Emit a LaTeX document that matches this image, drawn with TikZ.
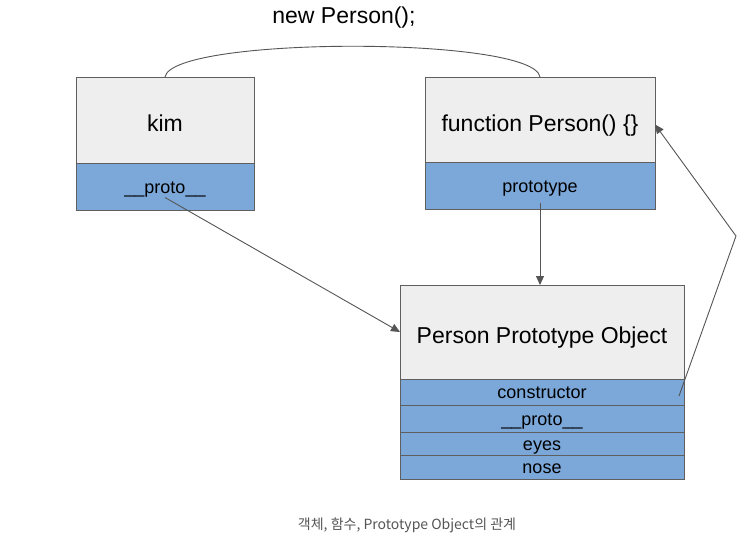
\documentclass[tikz,border=0pt]{standalone}
\usepackage{fontspec}
\setmainfont{Liberation Sans}
\newfontfamily\krfont{Noto Sans CJK KR}
\usetikzlibrary{arrows.meta,calc}
\definecolor{boxgray}{HTML}{EEEEEE}
\definecolor{boxblue}{HTML}{7BA7D9}
\definecolor{edgegray}{HTML}{5F5F5F}
\definecolor{linegray}{HTML}{555555}
\tikzset{
  titlebox/.style={draw=edgegray, fill=boxgray, line width=1pt, inner sep=0pt, outer sep=0pt, anchor=north west, text height=23pt, text depth=0pt, font=\fontsize{23}{26}\selectfont},
  fieldbox/.style={draw=edgegray, fill=boxblue, line width=1pt, inner sep=0pt, outer sep=0pt, anchor=north west, text height=13pt, text depth=0pt, font=\fontsize{18}{20}\selectfont},
  link/.style={draw=linegray, line width=0.9pt, -{Triangle[length=9pt,width=8pt]}},
  curveline/.style={draw=linegray, line width=0.9pt}
}
\begin{document}
\begin{tikzpicture}[x=1pt,y=-1pt]
\useasboundingbox[fill=white] (0,0) rectangle (750,557);
% kim
\node[titlebox, minimum width=178pt, minimum height=86pt] (kimtitle) at (76,77) {kim};
\node[fieldbox, minimum width=178pt, minimum height=47pt] (kimproto) at (76,163) {\_\_proto\_\_};
% function Person
\node[titlebox, minimum width=230pt, minimum height=85pt] (ftitle) at (425,77) {function Person() \{\}};
\node[fieldbox, minimum width=230pt, minimum height=47pt] (fproto) at (425,162) {prototype};
% Person Prototype Object
\node[titlebox, minimum width=284pt, minimum height=94pt] (ptitle) at (400,285) {Person Prototype Object};
\node[fieldbox, minimum width=284pt, minimum height=26pt] (pctor) at (400,379) {constructor};
\node[fieldbox, minimum width=284pt, minimum height=27pt] (pproto) at (400,405) {\_\_proto\_\_};
\node[fieldbox, minimum width=284pt, minimum height=23pt] (peyes) at (400,432) {eyes};
\node[fieldbox, minimum width=284pt, minimum height=24pt] (pnose) at (400,455) {nose};
% top label and curve
\node[font=\fontsize{23}{26}\selectfont, inner sep=0pt] (newp) at (344,18) {new Person();};
\draw[curveline] (kimtitle.north) .. controls (172,36) and (534,36) .. (ftitle.north);
% arrows
\draw[link] ([yshift=-11pt]kimproto.center) -- (ptitle.west);
\draw[link] ([yshift=-17pt]fproto.center) -- (fproto.center |- ptitle.north);
\coordinate (bend) at (736,236);
\draw[link] ([xshift=-5pt,yshift=-4pt]pctor.east) -- (bend) -- ([yshift=-5pt]ftitle.east);
% caption
\node[font=\krfont\fontsize{14}{16}\selectfont, text=linegray, inner sep=0pt] (cap) at (407,525) {객체, 함수, Prototype Object의 관계};
\end{tikzpicture}
\end{document}
